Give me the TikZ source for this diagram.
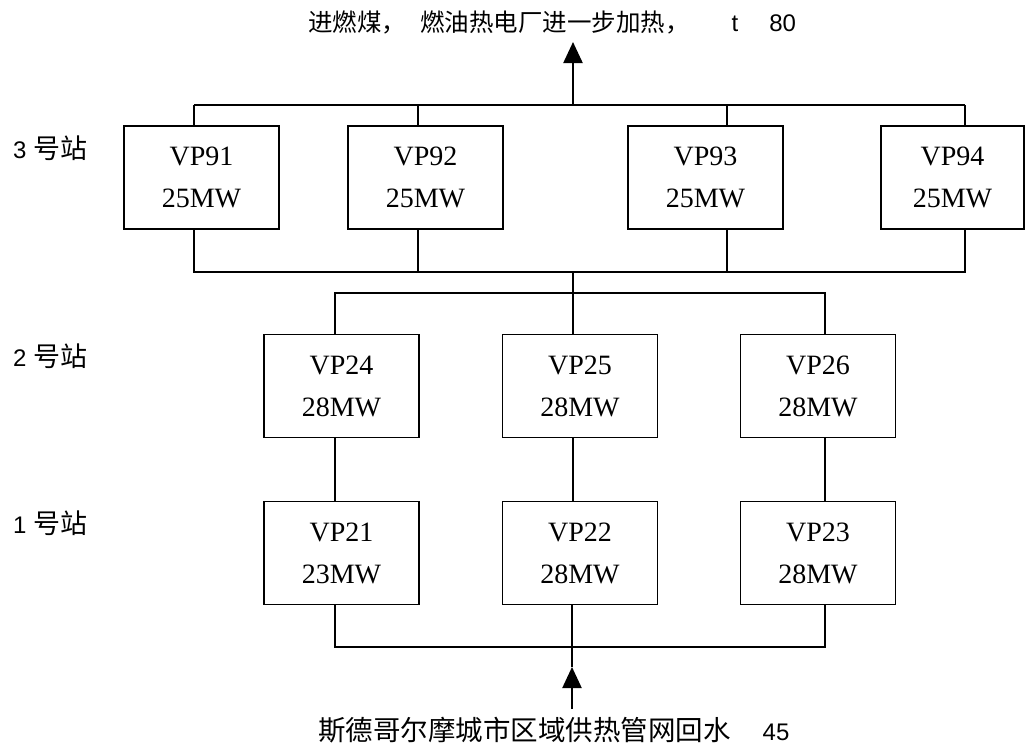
\documentclass[tikz,border=0pt]{standalone}
\usepackage{fontspec}
\setmainfont{Liberation Serif}
\newfontfamily\lsans{Liberation Sans}
\newfontfamily\cjk{Noto Sans CJK SC}
\usetikzlibrary{arrows.meta}
\begin{document}
\begin{tikzpicture}[x=1pt,y=-1pt,
  unit/.style={draw, line width=1.3pt, minimum width=155pt, minimum height=103pt, inner sep=0pt, align=center, font=\fontsize{28}{42}\selectfont, execute at begin node={\rule{0pt}{24pt}}},
  wire/.style={line width=1.3pt},
  flow/.style={line width=2.2pt, -{Triangle[length=21pt,width=19pt]}},
  lbl/.style={inner sep=0pt, anchor=west, font=\lsans\fontsize{24}{28}\selectfont}]
\useasboundingbox (0,0) rectangle (1025,744);
% boxes
\node[unit] (v91) at (201.5,177.5) {VP91\\25MW};
\node[unit] (v92) at (425.5,177.5) {VP92\\25MW};
\node[unit] (v93) at (705.5,177.5) {VP93\\25MW};
\node[unit, minimum width=143pt] (v94) at (952.5,177.5) {VP94\\25MW};
\node[unit] (v24) at (341.5,386) {VP24\\28MW};
\node[unit] (v25) at (580,386) {VP25\\28MW};
\node[unit] (v26) at (818,386) {VP26\\28MW};
\node[unit] (v21) at (341.5,553) {VP21\\23MW};
\node[unit] (v22) at (580,553) {VP22\\28MW};
\node[unit] (v23) at (818,553) {VP23\\28MW};
% bus points
\coordinate (tb1) at (194,105);
\coordinate (tb2) at (418,105);
\coordinate (tb3) at (727,105);
\coordinate (tb4) at (965,105);
\coordinate (tmid) at (573,105);
\coordinate (ttip) at (573,42);
\coordinate (bb1) at (194,272);
\coordinate (bb4) at (965,272);
\coordinate (bmid) at (573,272);
\coordinate (r2a) at (335,293);
\coordinate (r2c) at (825,293);
\coordinate (b1) at (335,647);
\coordinate (b3) at (825,647);
\coordinate (btip) at (572,667);
\coordinate (bin) at (572,709);
% top collector
\draw[wire] (tb1) -- (tb4);
\draw[wire] (tb1) -- (tb1 |- v91.north);
\draw[wire] (tb2) -- (tb2 |- v92.north);
\draw[wire] (tb3) -- (tb3 |- v93.north);
\draw[wire] (tb4) -- (tb4 |- v94.north);
% row 3 bottom collector
\draw[wire] (bb1 |- v91.south) -- (bb1) -- (bb4) -- (bb4 |- v94.south);
\draw[wire] (v92.south -| tb2) -- (tb2 |- bb1);
\draw[wire] (v93.south -| tb3) -- (tb3 |- bb1);
\draw[wire] (bmid) -- (bmid |- v25.north);
% row 2 distributor
\draw[wire] (r2a |- v24.north) -- (r2a) -- (r2c) -- (r2c |- v26.north);
% between rows
\draw[wire] (v24.south -| r2a) -- (v21.north -| r2a);
\draw[wire] (v25.south -| bmid) -- (v22.north -| bmid);
\draw[wire] (v26.south -| r2c) -- (v23.north -| r2c);
% bottom collector
\draw[wire] (b1 |- v21.south) -- (b1) -- (b3) -- (b3 |- v23.south);
\draw[wire] (v22.south -| btip) -- (btip);
% flow arrows
\draw[flow] (tmid) -- (ttip);
\draw[flow] (bin) -- (btip);
% labels
\node[lbl] (s3) at (13,148) {3 {\cjk\fontsize{27}{30}\selectfont 号站}};
\node[lbl] (s2) at (13,356) {2 {\cjk\fontsize{27}{30}\selectfont 号站}};
\node[lbl] (s1) at (13,523) {1 {\cjk\fontsize{27}{30}\selectfont 号站}};
\node[lbl] (outtxt) at (308,22) {{\cjk\fontsize{24.5}{28}\selectfont 进燃煤，}\hspace{14pt}{\cjk\fontsize{24.5}{28}\selectfont 燃油热电厂进一步加热，}\hspace{42pt}t\hspace{31pt}80};
\node[lbl] (intxt) at (318,730) {{\cjk\fontsize{27.5}{30}\selectfont 斯德哥尔摩城市区域供热管网回水}\hspace{32pt}45};
\end{tikzpicture}
\end{document}
